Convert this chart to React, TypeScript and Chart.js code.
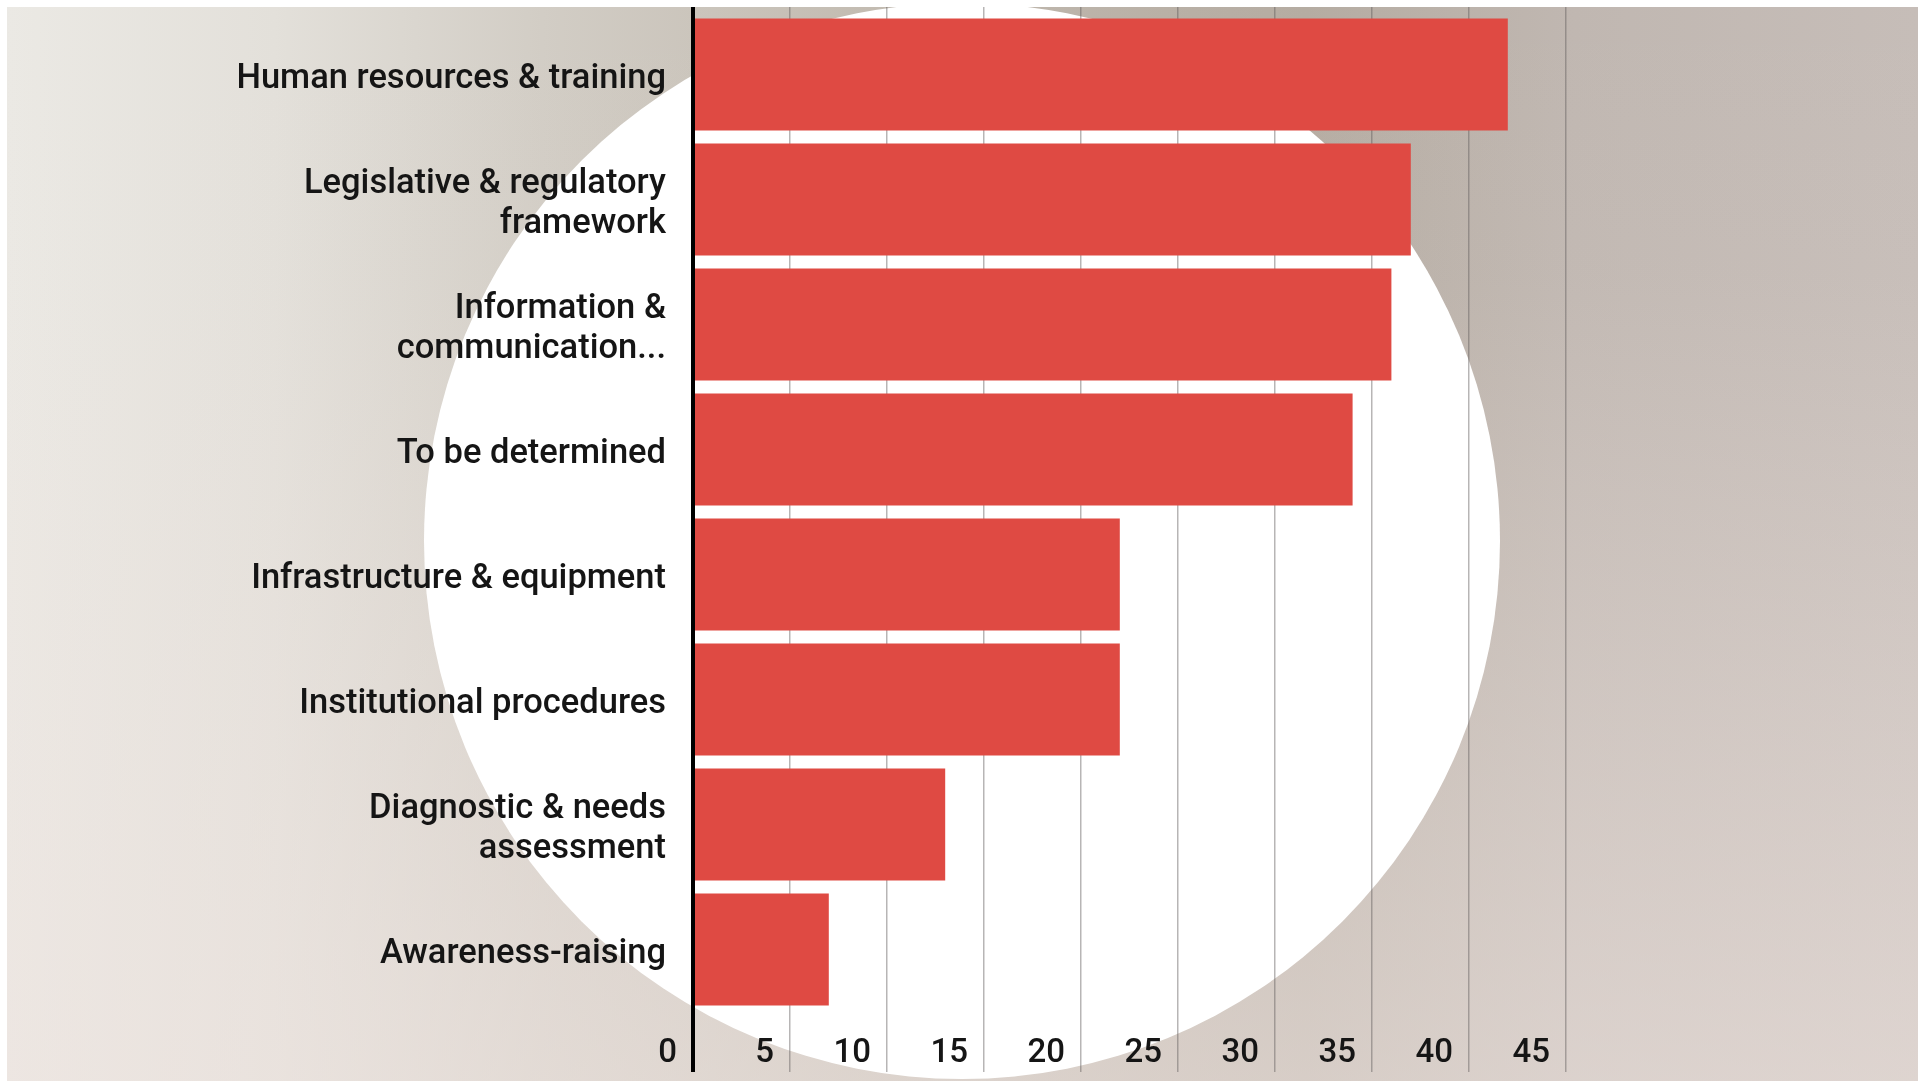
import React, { useEffect, useRef } from 'react';
import { Chart, registerables } from 'chart.js';

Chart.register(...registerables);

const categoryLines: string[][] = [
  ['Human resources & training'],
  ['Legislative & regulatory', 'framework'],
  ['Information &', 'communication...'],
  ['To be determined'],
  ['Infrastructure & equipment'],
  ['Institutional procedures'],
  ['Diagnostic & needs', 'assessment'],
  ['Awareness-raising'],
];

const values: number[] = [42, 37, 36, 34, 22, 22, 13, 7];

const xTickValues: number[] = [0, 5, 10, 15, 20, 25, 30, 35, 40, 45];

const BAR_COLOR = '#df4a43';
const TEXT_COLOR = '#151515';
const GRID_GRAY = 'rgba(95,92,90,0.45)';
const FONT_FAMILY = 'Roboto, "Noto Sans", sans-serif';

export default function App() {
  const canvasRef = useRef<HTMLCanvasElement | null>(null);

  useEffect(() => {
    const canvas = canvasRef.current;
    if (!canvas) return;
    const xMin = xTickValues[0];
    const xMax = xTickValues[xTickValues.length - 1];
    const step = xTickValues[1] - xTickValues[0];
    const gridColor = (ctx: any) => (ctx.tick && ctx.tick.value === 0 ? '#000000' : GRID_GRAY);
    const gridWidth = (ctx: any) => (ctx.tick && ctx.tick.value === 0 ? 4 : 1.5);
    const clearPad = (s: any) => {
      s.paddingTop = 0;
      s.paddingBottom = 0;
      s.paddingLeft = 0;
      s.paddingRight = 0;
    };

    const chart = new Chart(canvas, {
      type: 'bar',
      data: {
        labels: categoryLines,
        datasets: [
          {
            data: values,
            backgroundColor: BAR_COLOR,
            borderWidth: 0,
            categoryPercentage: 1,
            barPercentage: 0.896,
            xAxisID: 'x',
            yAxisID: 'y',
          },
        ],
      },
      options: {
        indexAxis: 'y',
        animation: false,
        responsive: false,
        maintainAspectRatio: false,
        layout: { padding: { top: 7, right: 361, bottom: 0, left: 0 } },
        plugins: {
          legend: { display: false },
          tooltip: { enabled: false },
        },
        scales: {
          y: {
            type: 'category',
            position: 'left',
            z: 1,
            grid: { display: false, drawTicks: true, tickLength: 27 },
            border: { display: true, color: '#000000', width: 4, z: 1 },
            ticks: {
              color: TEXT_COLOR,
              padding: 0,
              labelOffset: 5,
              font: { family: FONT_FAMILY, size: 34.5, weight: '500', lineHeight: 1.17 },
            },
            afterFit: (s: any) => {
              s.width = 693;
              clearPad(s);
            },
          },
          x: {
            type: 'linear',
            position: 'bottom',
            min: xMin,
            max: xMax,
            grid: {
              color: gridColor,
              lineWidth: gridWidth,
              tickColor: gridColor,
              tickWidth: gridWidth,
              tickLength: 60,
              drawTicks: true,
            },
            border: { display: false },
            ticks: {
              stepSize: step,
              align: 'end',
              labelOffset: -16,
              padding: -38,
              autoSkip: false,
              maxRotation: 0,
              color: TEXT_COLOR,
              font: { family: FONT_FAMILY, size: 33, weight: '500' },
            },
            afterFit: (s: any) => {
              s.height = 69;
              clearPad(s);
            },
          },
          x2: {
            type: 'linear',
            position: 'top',
            min: xMin,
            max: xMax,
            grid: {
              drawOnChartArea: false,
              color: gridColor,
              lineWidth: gridWidth,
              tickColor: gridColor,
              tickWidth: gridWidth,
              tickLength: 5,
            },
            border: { display: false },
            ticks: { display: false, stepSize: step },
            afterFit: (s: any) => {
              s.height = 5;
              clearPad(s);
            },
          },
        },
      } as any,
    });

    return () => {
      chart.destroy();
    };
  }, []);

  const bg =
    'linear-gradient(to bottom, rgba(238,228,224,0) 0%, rgba(238,228,224,0.05) 25%, rgba(238,228,224,0.6) 100%), ' +
    'linear-gradient(to right, #ebe9e4 0%, #e3e0da 14%, #d2cdc5 28%, #c3bcb2 45%, #b8afa5 62%, #b5aca2 68%, #c0b7b1 82%, #c6bdb8 100%)';

  return (
    <div
      style={{
        position: 'fixed',
        left: 0,
        top: 0,
        width: 1927,
        height: 1081,
        background: '#ffffff',
        overflow: 'hidden',
      }}
    >
      <div
        style={{
          position: 'absolute',
          left: 7,
          top: 7,
          width: 1911,
          height: 1074,
          overflow: 'hidden',
          background: bg,
        }}
      >
        <div
          style={{
            position: 'absolute',
            left: 417,
            top: -4,
            width: 1076,
            height: 1076,
            borderRadius: '50%',
            background: '#ffffff',
          }}
        />
      </div>
      <canvas
        ref={canvasRef}
        width={1927}
        height={1081}
        style={{ position: 'absolute', left: 0, top: 0, width: 1927, height: 1081 }}
      />
    </div>
  );
}
